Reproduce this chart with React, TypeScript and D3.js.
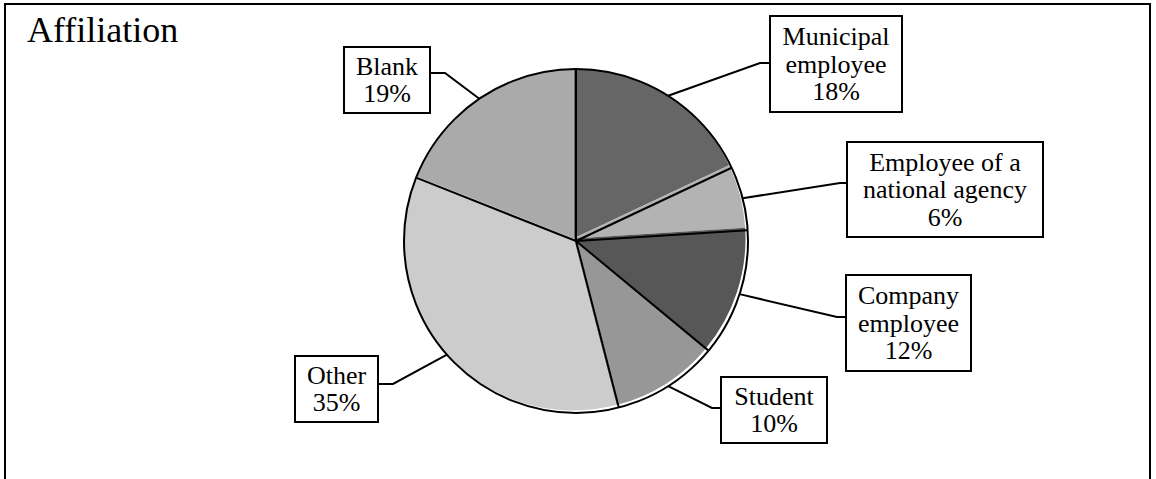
import React from "react";
import * as d3 from "d3";

// Survey respondents by affiliation (percent)
const categories = [
  "Municipal employee",
  "Employee of a national agency",
  "Company employee",
  "Student",
  "Other",
  "Blank",
];
const labelLines = [
  ["Municipal", "employee"],
  ["Employee of a", "national agency"],
  ["Company", "employee"],
  ["Student"],
  ["Other"],
  ["Blank"],
];
const percents = [18, 6, 12, 10, 35, 19];
const sliceColors = ["#666666", "#b3b3b3", "#575757", "#979797", "#cccccc", "#aaaaaa"];

// Callout boxes: rectangle, which side the leader enters, leader height, elbow length
const callouts = [
  { x: 770, y: 16, w: 132, h: 96, side: "left", ly: 63, elbow: 10 },
  { x: 847, y: 142, w: 196, h: 95, side: "left", ly: 183, elbow: 7 },
  { x: 846, y: 275, w: 125, h: 96, side: "left", ly: 317, elbow: 9 },
  { x: 721, y: 377, w: 106, h: 66, side: "left", ly: 408, elbow: 9 },
  { x: 295, y: 356, w: 83, h: 66, side: "right", ly: 384, elbow: 15 },
  { x: 344, y: 47, w: 86, h: 66, side: "right", ly: 73, elbow: 15 },
];

const W = 1156;
const H = 479;
const cx = 576;
const cy = 241;
const R = 172;
const shadow = 2.5;
const font = "'Liberation Serif', 'Times New Roman', serif";

export default function App() {
  const rows = categories.map((c, i) => ({ name: c, value: percents[i], i }));
  const pie = d3
    .pie<any>()
    .sort(null)
    .value((d) => d.value)
    .startAngle(0)
    .endAngle(2 * Math.PI);
  const arcs = pie(rows);
  const arc = d3.arc<any>().innerRadius(0).outerRadius(R);

  return (
    <svg
      width={W}
      height={H}
      style={{ position: "absolute", left: 0, top: 0, display: "block", background: "#fff" }}
    >
      <defs>
        <clipPath id="pieClip">
          <circle cx={cx} cy={cy} r={R} />
        </clipPath>
      </defs>
      <rect x={5} y={4} width={1145} height={H + 10} fill="#fff" stroke="#000" strokeWidth={2} />
      <text x={27} y={42} fontFamily={font} fontSize={36} fill="#000">
        Affiliation
      </text>

      {/* slice fills, nudged up-left inside the outline */}
      <g clipPath="url(#pieClip)">
        <g transform={`translate(${cx - shadow},${cy - shadow})`}>
          {arcs.map((a) => (
            <path key={a.data.name} d={arc(a) as string} fill={sliceColors[a.data.i]} />
          ))}
        </g>
      </g>

      {/* slice dividers */}
      {arcs.map((a) => {
        const ang = a.startAngle;
        return (
          <line
            key={"div" + a.data.name}
            x1={cx}
            y1={cy}
            x2={cx + R * Math.sin(ang)}
            y2={cy - R * Math.cos(ang)}
            stroke="#000"
            strokeWidth={2}
          />
        );
      })}
      <circle cx={cx} cy={cy} r={R} fill="none" stroke="#000" strokeWidth={2} />

      {/* callouts */}
      {arcs.map((a) => {
        const i = a.data.i;
        const c = callouts[i];
        const mid = (a.startAngle + a.endAngle) / 2;
        const px = cx + R * Math.sin(mid);
        const py = cy - R * Math.cos(mid);
        const edgeX = c.side === "left" ? c.x : c.x + c.w;
        const elbowX = c.side === "left" ? edgeX - c.elbow : edgeX + c.elbow;
        const lines = [...labelLines[i], `${percents[i]}%`];
        const lh = 27.5;
        const centerY = c.y + c.h / 2;
        const first = centerY - ((lines.length - 1) * lh) / 2;
        return (
          <g key={"lab" + a.data.name}>
            <polyline
              points={`${px},${py} ${elbowX},${c.ly} ${edgeX},${c.ly}`}
              fill="none"
              stroke="#000"
              strokeWidth={2}
            />
            <rect x={c.x} y={c.y} width={c.w} height={c.h} fill="#fff" stroke="#000" strokeWidth={2} />
            {lines.map((t, k) => (
              <text
                key={k}
                x={c.x + c.w / 2}
                y={first + k * lh + 8.5}
                textAnchor="middle"
                fontFamily={font}
                fontSize={26}
                fill="#000"
              >
                {t}
              </text>
            ))}
          </g>
        );
      })}
    </svg>
  );
}
